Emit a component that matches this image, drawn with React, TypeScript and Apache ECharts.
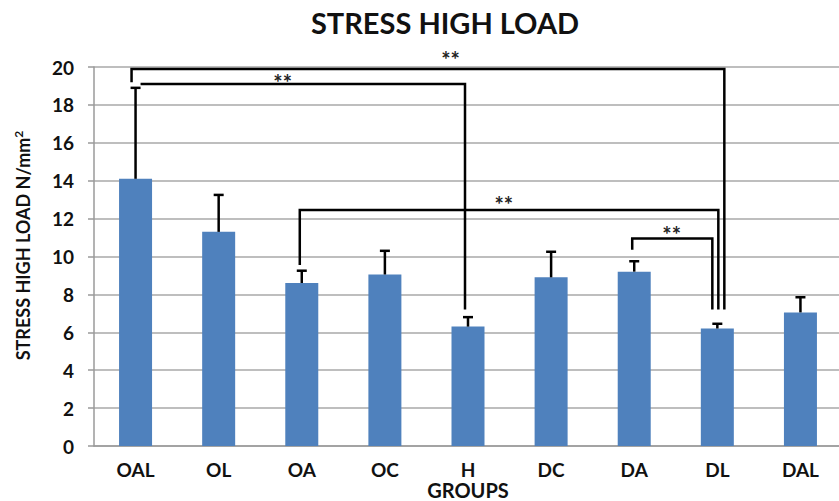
import React, { useEffect, useRef } from "react";
import * as echarts from "echarts";

// Group labels along the x axis
const categories = ["OAL", "OL", "OA", "OC", "H", "DC", "DA", "DL", "DAL"];
// Mean stress per group (N/mm²)
const means = [14.1, 11.3, 8.6, 9.05, 6.3, 8.9, 9.2, 6.2, 7.05];
// Upper end of each error bar (mean + SD)
const errorTops = [18.9, 13.25, 9.25, 10.3, 6.8, 10.25, 9.75, 6.45, 7.85];

// Y axis range
const yMin = 0;
const yMax = 20;
const yStep = 2;

// Significance brackets between groups
const bracketFrom = [0, 0, 2, 6];
const bracketTo = [7, 4, 7, 7];
const bracketLevel = [19.9, 19.1, 12.45, 10.95];
const bracketFromEnd = [19.2, 19.1, 9.55, 10.35];
const bracketToEnd = [7.2, 7.2, 7.2, 7.2];
const bracketMarks = ["**", "**", "**", "**"];

// Pixel nudges so neighbouring bracket legs don't overlap
const legShiftFrom = [-4, 5, -2, -2];
const legShiftTo = [7, -3, 1, -5];
// Where each "**" sits, as category index + fraction of a band
const markCat = [4, 2, 4, 6];
const markFrac = [-0.21, -0.23, 0.43, 0.45];
// Distance (px) from the bracket line up to the marks' anchor
const markGap = [9, 2, 6, 4];

const FONT = "Lato, 'Open Sans', sans-serif";

export default function App() {
  const ref = useRef<HTMLDivElement>(null);

  useEffect(() => {
    if (!ref.current) return;
    const chart = echarts.init(ref.current, null, { renderer: "svg" });

    const option: any = {
      animation: false,
      backgroundColor: "#ffffff",
      textStyle: { fontFamily: FONT },
      title: {
        text: "STRESS HIGH LOAD",
        left: 440,
        textAlign: "center",
        top: 3,
        textStyle: {
          fontFamily: FONT,
          fontSize: 29,
          fontWeight: "bold",
          color: "#111111",
        },
      },
      grid: { left: 94, right: -3, top: 67, bottom: 55, outerBoundsMode: "none", containLabel: false },
      xAxis: {
        type: "category",
        data: categories,
        name: "GROUPS",
        nameLocation: "middle",
        nameGap: 34,
        nameMoveOverlap: false,
        nameTextStyle: {
          fontFamily: FONT,
          fontSize: 20,
          lineHeight: 20,
          fontWeight: "bold",
          color: "#111",
        },
        axisLine: { lineStyle: { color: "#9a9a9a", width: 1.5 } },
        axisTick: { show: false },
        axisLabel: {
          fontFamily: FONT,
          fontSize: 19,
          lineHeight: 19,
          fontWeight: "bold",
          color: "#111",
          margin: 14,
        },
      },
      yAxis: {
        type: "value",
        min: yMin,
        max: yMax,
        interval: yStep,
        name: "{a|STRESS HIGH LOAD N/mm}{s|2}",
        nameLocation: "middle",
        nameGap: 60,
        nameMoveOverlap: false,
        nameTextStyle: {
          padding: [0, 0, 0, 22],
          rich: {
            a: { fontFamily: FONT, fontSize: 18, fontWeight: "bold", color: "#111" },
            s: {
              fontFamily: FONT,
              fontSize: 12,
              fontWeight: "bold",
              color: "#111",
              verticalAlign: "top",
              padding: [0, 0, 10, 0],
            },
          },
        },
        axisLine: { show: true, lineStyle: { color: "#9a9a9a", width: 1.5 } },
        axisTick: { show: true, length: 6, lineStyle: { color: "#9a9a9a", width: 1.5 } },
        axisLabel: {
          fontFamily: FONT,
          fontSize: 19,
          fontWeight: "bold",
          color: "#111",
          margin: 20,
        },
        splitLine: { lineStyle: { color: "#a8a8a8", width: 1.5 } },
      },
      series: [
        {
          type: "bar",
          data: means,
          barWidth: 33,
          itemStyle: { color: "#4f81bd" },
          z: 2,
        },
        {
          // upper error bars with caps
          type: "custom",
          data: categories.map((_, i) => [i, means[i], errorTops[i]]),
          z: 3,
          renderItem: (params: any, api: any) => {
            const i = api.value(0);
            const base = api.coord([i, api.value(1)]);
            const top = api.coord([i, api.value(2)]);
            const cap = 5;
            const style = { stroke: "#000", lineWidth: 2.5 };
            return {
              type: "group",
              children: [
                { type: "line", shape: { x1: base[0], y1: base[1], x2: top[0], y2: top[1] }, style },
                { type: "line", shape: { x1: top[0] - cap, y1: top[1], x2: top[0] + cap, y2: top[1] }, style },
              ],
            };
          },
        },
        {
          // significance brackets with their "**" marks
          type: "custom",
          data: bracketFrom.map((f, i) => [f, bracketLevel[i]]),
          z: 4,
          clip: false,
          renderItem: (params: any, api: any) => {
            const k = params.dataIndex;
            const band = api.size([1, 0])[0];
            const fx = api.coord([bracketFrom[k], 0])[0] + legShiftFrom[k];
            const tx = api.coord([bracketTo[k], 0])[0] + legShiftTo[k];
            const yLevel = api.coord([0, bracketLevel[k]])[1];
            const yFromEnd = api.coord([0, bracketFromEnd[k]])[1];
            const yToEnd = api.coord([0, bracketToEnd[k]])[1];
            const mx = api.coord([markCat[k], 0])[0] + markFrac[k] * band;
            return {
              type: "group",
              children: [
                {
                  type: "polyline",
                  shape: {
                    points: [
                      [fx, yFromEnd],
                      [fx, yLevel],
                      [tx, yLevel],
                      [tx, yToEnd],
                    ],
                  },
                  style: { stroke: "#000", lineWidth: 2.5, fill: "none" },
                },
                {
                  type: "text",
                  x: mx,
                  y: yLevel - markGap[k],
                  style: {
                    text: bracketMarks[k],
                    fontFamily: FONT,
                    fontSize: 22,
                    fontWeight: "bold",
                    fill: "#222",
                    align: "center",
                    verticalAlign: "middle",
                  },
                },
              ],
            };
          },
        },
      ],
    };

    chart.setOption(option);
    return () => chart.dispose();
  }, []);

  return <div ref={ref} style={{ width: 839, height: 501, position: "absolute", left: 0, top: 0 }} />;
}
